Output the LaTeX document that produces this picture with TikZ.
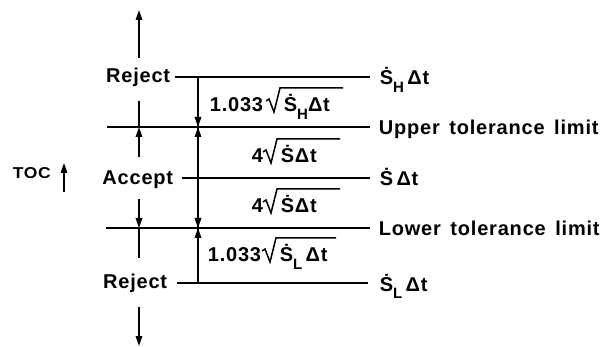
\documentclass[tikz,border=0pt]{standalone}
\usepackage{graphicx}
\usepackage{fontspec}
\setmainfont[LetterSpace=4,WordSpace=1.5]{Liberation Sans}
\usetikzlibrary{arrows.meta,calc}
\newcommand\Sdot{\.{S}}
\newcommand\lsub[1]{\raisebox{-0.4em}{\fontsize{15}{15}\selectfont #1}}
\begin{document}
\begin{tikzpicture}[x=1pt,y=-1pt,line width=1.7pt,
  lbl/.style={font=\fontsize{20}{22}\selectfont\bfseries,inner sep=0pt},
  tip/.style={-{Triangle[length=10pt,width=6.5pt]}},
  rad/.style={line width=1.5pt,line join=miter}]
\useasboundingbox (0,0) rectangle (605,347);
% horizontal levels
\coordinate (hA) at (175,77);  \coordinate (hB) at (370,77);
\coordinate (uA) at (107,127); \coordinate (uB) at (370,127);
\coordinate (sA) at (182,178); \coordinate (sB) at (370,178);
\coordinate (lA) at (106,228); \coordinate (lB) at (370,228);
\coordinate (rA) at (177,283); \coordinate (rB) at (368,283);
\draw (hA) -- (hB);
\draw (uA) -- (uB);
\draw (sA) -- (sB);
\draw (lA) -- (lB);
\draw (rA) -- (rB);
% main vertical dimension line
\coordinate (vT) at (198,77); \coordinate (vB) at (198,283);
\coordinate (vU) at (198,127); \coordinate (vL) at (198,228);
\coordinate (vU1) at (198,105); \coordinate (vU2) at (198,150);
\coordinate (vL1) at (198,205); \coordinate (vL2) at (198,250);
\draw (vT) -- (vB);
\draw[tip] (vU1) -- (vU);
\draw[tip] (vU2) -- (vU);
\draw[tip] (vL1) -- (vL);
\draw[tip] (vL2) -- (vL);
% left zone arrows
\coordinate (aT1) at (139,58);  \coordinate (aT2) at (139,10);
\coordinate (aU0) at (139,101); \coordinate (aU) at (139,127); \coordinate (aU1) at (139,157);
\coordinate (aL0) at (139,199); \coordinate (aL) at (139,228); \coordinate (aL1) at (139,258);
\coordinate (aB1) at (139,307); \coordinate (aB2) at (139,346);
\draw[tip] (aT1) -- (aT2);
\draw (aU0) -- (aU);
\draw[tip] (aU1) -- (aU);
\draw[tip] (aL0) -- (aL);
\draw (aL) -- (aL1);
\draw[tip] (aB1) -- (aB2);
% left labels
\node[lbl,anchor=base east] (rej1) at (171,83) {Reject};
\node[lbl,anchor=base east] (acc) at (174,185) {Accept};
\node[lbl,anchor=base east] (rej2) at (168,289) {Reject};
\node[lbl,anchor=base west] (toc) at (12,179) {\resizebox{38pt}{11pt}{TOC}};
\coordinate (tocA) at (64,192); \coordinate (tocB) at (64,163);
\draw[tip,line width=1.5pt] (tocA) -- (tocB);
% right labels
\node[lbl,anchor=base west] (sh) at (379,85) {\Sdot\lsub{H}\,Δt};
\node[lbl,anchor=base west] (ut) at (378,135) {Upper tolerance limit};
\node[lbl,anchor=base west] (s) at (379,186) {\Sdot\,Δt};
\node[lbl,anchor=base west] (lt) at (378,236) {Lower tolerance limit};
\node[lbl,anchor=base west] (sl) at (379,291) {\Sdot\lsub{L}\,Δt};
% dimension labels with hand-drawn radicals
\node[lbl,anchor=base west] (d1) at (209,112) {1.033};
\node[lbl,anchor=base west] (d1r) at (283,112) {\Sdot\lsub{H}Δt};
\node[lbl,anchor=base west] (d2) at (251,163) {4};
\node[lbl,anchor=base west] (d2r) at (280,163) {\Sdot Δt};
\node[lbl,anchor=base west] (d3) at (251,213) {4};
\node[lbl,anchor=base west] (d3r) at (280,213) {\Sdot Δt};
\node[lbl,anchor=base west] (d4) at (207,262) {1.033};
\node[lbl,anchor=base west] (d4r) at (279,262) {\Sdot\lsub{L}\,Δt};
\foreach \r/\e in {d1r/343,d2r/340,d3r/340,d4r/336}{
  \draw[rad] ($(\r.base west)+(-17,-11)$) -- ++(3,-2)
    -- ($(\r.base west)+(-9,0)$) -- ($(\r.base west)+(-3,-24)$)
    -- ($(\r.base west)+(\e,-24)-(\r.base west |- 0,0)$);
}
\end{tikzpicture}
\end{document}
